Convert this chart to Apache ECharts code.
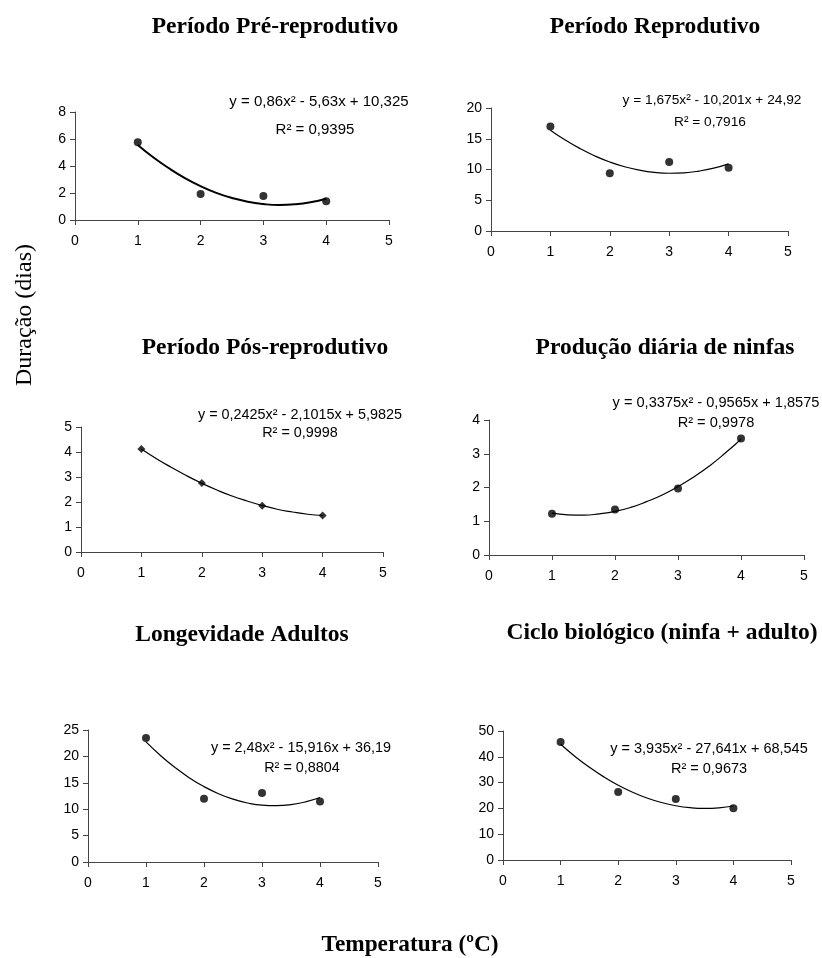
<!DOCTYPE html>
<html>
<head>
<meta charset="utf-8">
<script src="https://cdn.jsdelivr.net/npm/echarts@6/dist/echarts.min.js"></script>
<style>
html,body{margin:0;padding:0;background:#fff;}
#c{width:822px;height:958px;}
</style>
</head>
<body>
<div id="c"></div>
<script>
// ---- data ----
const xTicks = [0, 1, 2, 3, 4, 5];
const xPoints = [1, 2, 3, 4];
const xTrend = [1, 1.25, 1.5, 1.75, 2, 2.25, 2.5, 2.75, 3, 3.25, 3.5, 3.75, 4];

const titles = [
  'Período Pré-reprodutivo',
  'Período Reprodutivo',
  'Período Pós-reprodutivo',
  'Produção diária de ninfas',
  'Longevidade Adultos',
  'Ciclo biológico (ninfa + adulto)'
];
const equations = [
  'y = 0,86x² - 5,63x + 10,325',
  'y = 1,675x² - 10,201x + 24,92',
  'y = 0,2425x² - 2,1015x + 5,9825',
  'y = 0,3375x² - 0,9565x + 1,8575',
  'y = 2,48x² - 15,916x + 36,19',
  'y = 3,935x² - 27,641x + 68,545'
];
const r2Labels = ['R² = 0,9395', 'R² = 0,7916', 'R² = 0,9998', 'R² = 0,9978', 'R² = 0,8804', 'R² = 0,9673'];

const prePoints = [5.76, 1.93, 1.77, 1.38];
const preTrend = [5.56, 4.63, 3.82, 3.11, 2.51, 2.01, 1.63, 1.35, 1.18, 1.11, 1.16, 1.31, 1.57];
const repPoints = [17.0, 9.4, 11.2, 10.3];
const repTrend = [16.39, 14.79, 13.39, 12.2, 11.22, 10.45, 9.89, 9.53, 9.39, 9.46, 9.74, 10.22, 10.92];
const posPoints = [4.12, 2.76, 1.85, 1.46];
const posTrend = [4.12, 3.73, 3.38, 3.05, 2.75, 2.48, 2.24, 2.04, 1.86, 1.71, 1.60, 1.51, 1.46];
const ninPoints = [1.22, 1.35, 1.97, 3.45];
const ninTrend = [1.24, 1.19, 1.18, 1.22, 1.29, 1.41, 1.58, 1.78, 2.03, 2.31, 2.64, 3.02, 3.43];
const lonPoints = [23.5, 12.0, 13.05, 11.45];
const lonTrend = [22.75, 20.17, 17.9, 15.93, 14.28, 12.93, 11.9, 11.18, 10.76, 10.66, 10.86, 11.38, 12.21];
const cicPoints = [45.7, 26.4, 23.6, 20.1];
const cicTrend = [44.84, 40.14, 35.94, 32.22, 29.0, 26.27, 24.04, 22.29, 21.04, 20.28, 20.0, 20.23, 20.94];

const yMax = [8, 20, 5, 4, 25, 50];
const yStep = [2, 5, 1, 1, 5, 10];

const pointSets = [prePoints, repPoints, posPoints, ninPoints, lonPoints, cicPoints];
const trendSets = [preTrend, repTrend, posTrend, ninTrend, lonTrend, cicTrend];

// ---- layout ----
const grids = [
  {left: 75, top: 112, width: 314, height: 108},
  {left: 491, top: 108, width: 297, height: 123},
  {left: 81, top: 427, width: 302, height: 125},
  {left: 489, top: 420, width: 315, height: 135},
  {left: 88, top: 730, width: 290, height: 132},
  {left: 503, top: 731, width: 288, height: 129}
];
const titlePos = [[275, 27], [655, 27], [265, 348], [665, 348], [242, 635], [662, 633]];
const eqPos = [[319, 102], [712, 100], [300, 415], [716, 403], [301, 748], [709, 749]];
const r2Pos = [[315, 130], [710, 122], [300, 433], [716, 423], [302, 768], [709, 769]];
const eqFont = [15, 13.7, 14.4, 14.6, 14.4, 14.5];

const axisColor = '#444';
const sans = '"Liberation Sans", Arial, sans-serif';
const serif = '"Liberation Serif", "Times New Roman", serif';

const xAxis = [], yAxis = [], series = [], graphic = [];
for (let i = 0; i < 6; i++) {
  xAxis.push({
    type: 'value', gridIndex: i, min: xTicks[0], max: xTicks[xTicks.length - 1], interval: 1,
    axisLine: {show: true, onZero: false, lineStyle: {color: axisColor, width: 1}},
    axisTick: {show: true, length: 5, lineStyle: {color: axisColor}},
    axisLabel: {color: '#000', fontFamily: sans, fontSize: 14, margin: 14},
    splitLine: {show: false}
  });
  yAxis.push({
    type: 'value', gridIndex: i, min: 0, max: yMax[i], interval: yStep[i],
    axisLine: {show: true, onZero: false, lineStyle: {color: axisColor, width: 1}},
    axisTick: {show: true, length: 5, lineStyle: {color: axisColor}},
    axisLabel: {color: '#000', fontFamily: sans, fontSize: 14, margin: 9},
    splitLine: {show: false}
  });
  series.push({
    type: 'line', xAxisIndex: i, yAxisIndex: i,
    data: xTrend.map((x, k) => [x, trendSets[i][k]]),
    smooth: true, showSymbol: false, symbol: 'none',
    lineStyle: {color: '#000', width: i === 0 ? 2 : 1.2},
    silent: true, z: 2
  });
  series.push({
    type: 'scatter', xAxisIndex: i, yAxisIndex: i,
    data: xPoints.map((x, k) => [x, pointSets[i][k]]),
    symbol: i === 2 ? 'diamond' : 'circle',
    symbolSize: i === 2 ? 8 : 8,
    itemStyle: {color: '#000'},
    silent: true, z: 3
  });
  graphic.push({
    type: 'text', x: titlePos[i][0], y: titlePos[i][1],
    style: {text: titles[i], font: 'bold 23.5px ' + serif, fill: '#000', textAlign: 'center', textVerticalAlign: 'middle'}
  });
  graphic.push({
    type: 'text', x: eqPos[i][0], y: eqPos[i][1],
    style: {text: equations[i], font: eqFont[i] + 'px ' + sans, fill: '#000', textAlign: 'center', textVerticalAlign: 'middle'}
  });
  graphic.push({
    type: 'text', x: r2Pos[i][0], y: r2Pos[i][1],
    style: {text: r2Labels[i], font: eqFont[i] + 'px ' + sans, fill: '#000', textAlign: 'center', textVerticalAlign: 'middle'}
  });
}
graphic.push({
  type: 'text', x: 25, y: 315, rotation: Math.PI / 2,
  style: {text: 'Duração (dias)', font: '24px ' + serif, fill: '#000', textAlign: 'center', textVerticalAlign: 'middle'}
});
graphic.push({
  type: 'text', x: 410, y: 945,
  style: {text: 'Temperatura (ºC)', font: 'bold 23.3px ' + serif, fill: '#000', textAlign: 'center', textVerticalAlign: 'middle'}
});

const chart = echarts.init(document.getElementById('c'), null, {renderer: 'canvas'});
chart.setOption({
  animation: false,
  backgroundColor: '#fff',
  grid: grids.map(g => Object.assign({containLabel: false}, g)),
  xAxis: xAxis,
  yAxis: yAxis,
  series: series,
  graphic: graphic
});
</script>
</body>
</html>
